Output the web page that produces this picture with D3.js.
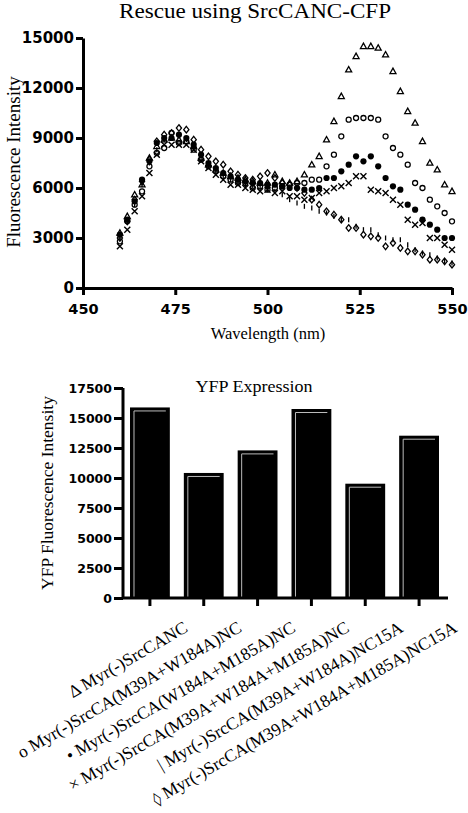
<!DOCTYPE html>
<html><head><meta charset="utf-8">
<script src="https://cdn.jsdelivr.net/npm/d3@7/dist/d3.min.js"></script>
<style>body{margin:0;background:#fff}svg{display:block}</style>
</head><body>
<svg id="c" width="468" height="813"></svg>
<script>
// ---------- Top chart data ----------
const wavelengths = [460,462,464,466,468,470,472,474,476,478,480,482,484,486,488,490,492,494,496,498,500,502,504,506,508,510,512,514,516,518,520,522,524,526,528,530,532,534,536,538,540,542,544,546,548,550];
const triangleSeries = [3300,4300,5600,6200,7800,8500,8900,9000,8900,8800,8500,7800,7400,7100,6900,6700,6600,6500,6400,6300,6300,6800,6400,6300,6400,6800,7400,7900,8900,10000,11500,13100,13900,14500,14500,14400,14000,13000,11800,10600,9900,8800,7500,7100,6200,5800];
const openCircleSeries = [2800,4000,5000,5800,7300,8100,8400,9300,8700,8800,8300,7700,7300,7000,6700,6500,6300,6300,6000,6100,5900,6000,6100,6200,6300,6300,6500,6500,7300,8000,9100,10100,10200,10200,10200,10100,9100,8400,8000,7400,6300,6000,5300,4900,4500,4000];
const filledCircleSeries = [3200,4100,5200,6500,7600,8700,9000,9000,9200,9000,8600,8000,7500,7200,6900,6700,6500,6400,6300,6300,6200,6200,6100,6000,6000,5900,5900,6000,6600,6600,7000,7400,7900,7600,7900,7300,6600,6100,5900,5000,4700,4100,3800,3500,3000,3000];
const crossSeries = [2500,3500,4600,5500,6900,8000,8600,8600,8600,8600,8300,7600,7200,6800,6500,6200,6200,6000,5900,5800,5900,5700,5800,5500,5500,5300,5400,5700,5800,6000,6100,6300,6700,6700,5900,5800,5700,5300,5000,4100,3800,3900,3000,3000,2600,2300];
const barSeries = [3000,4000,5000,6200,7500,8300,8900,9000,9100,8900,8400,7800,7300,7000,6700,6500,6300,6200,6100,6000,5900,5800,5600,5300,5100,4900,4800,4600,4500,4300,4100,4100,3700,3500,3500,3200,3000,2900,2900,2600,2300,2100,2000,1800,1600,1500];
const diamondSeries = [3000,4000,5300,6400,7700,8800,9200,9300,9600,9500,8900,8300,7900,7600,7400,7000,6800,6600,6500,6700,6900,6600,6300,6200,6000,5700,5300,5000,4600,4400,4100,3600,3600,3200,3100,3000,2500,2700,2400,2200,2200,2000,1700,1700,1600,1400];
const topXTicks = [450,475,500,525,550];
const topYTicks = [0,3000,6000,9000,12000,15000];

// ---------- Bottom chart data ----------
const barSymbols = ["\u0394","o","\u2022","\u00d7","|","\u25ca"];
const barLabels = ["Myr(-)SrcCANC","Myr(-)SrcCA(M39A+W184A)NC","Myr(-)SrcCA(W184A+M185A)NC","Myr(-)SrcCA(M39A+W184A+M185A)NC","Myr(-)SrcCA(M39A+W184A)NC15A","Myr(-)SrcCA(M39A+W184A+M185A)NC15A"];
const yfpValues = [15880,10420,12300,15750,9525,13525];
const bottomYTicks = [0,2500,5000,7500,10000,12500,15000,17500];

const svg = d3.select("#c");
const serif = "'Liberation Serif','Times New Roman',serif";
const tickFont = "'DejaVu Sans',sans-serif";

// ================= TOP CHART =================
const x1 = d3.scaleLinear().domain([450,550]).range([83,452]);
const y1 = d3.scaleLinear().domain([0,15000]).range([288,38]);
const topG = svg.append("g");

topG.append("text").attr("x",255).attr("y",18).attr("text-anchor","middle")
  .attr("font-family",serif).attr("font-size",21)
  .attr("textLength",272).attr("lengthAdjust","spacingAndGlyphs")
  .text("Rescue using SrcCANC-CFP");

const yAx1 = topG.append("g").attr("transform","translate(83,0)")
  .call(d3.axisLeft(y1).tickValues(topYTicks).tickSize(7).tickSizeOuter(0).tickFormat(d3.format("d")));
const xAx1 = topG.append("g").attr("transform","translate(0,288)")
  .call(d3.axisBottom(x1).tickValues(topXTicks).tickSize(7).tickSizeOuter(0).tickFormat(d3.format("d")));
[yAx1,xAx1].forEach(a=>{
  a.select(".domain").attr("stroke","#000").attr("stroke-width",3);
  a.selectAll(".tick line").attr("stroke","#000").attr("stroke-width",3);
  a.selectAll("text").attr("font-family",tickFont).attr("font-weight","bold").attr("fill","#000");
});
yAx1.selectAll("text").attr("font-size",15).attr("x",-9);
xAx1.selectAll("text").attr("font-size",14.5).attr("y",16);

topG.append("text").attr("transform","translate(20,162) rotate(-90)").attr("text-anchor","middle")
  .attr("font-family",serif).attr("font-size",19).text("Fluorescence Intensity");
topG.append("text").attr("x",268).attr("y",339).attr("text-anchor","middle")
  .attr("font-family",serif).attr("font-size",16.5).text("Wavelength (nm)");

const pts = topG.append("g");
function plot(series, drawFn){
  series.forEach((v,i)=>{
    const g = pts.append("g").attr("transform",`translate(${x1(wavelengths[i])},${y1(v)})`);
    drawFn(g);
  });
}
const sw = 1.3;
plot(barSeries, g=>g.append("line").attr("x1",0).attr("x2",0).attr("y1",-2.5).attr("y2",2.5).attr("stroke","#000").attr("stroke-width",sw));
plot(diamondSeries, g=>g.append("path").attr("d","M0,-3.3L2.6,0L0,3.3L-2.6,0Z").attr("fill","none").attr("stroke","#000").attr("stroke-width",sw));
plot(crossSeries, g=>g.append("path").attr("d","M-3,-3L3,3M-3,3L3,-3").attr("stroke","#000").attr("stroke-width",1.4));
plot(filledCircleSeries, g=>g.append("circle").attr("r",3.1).attr("fill","#000"));
plot(openCircleSeries, g=>g.append("circle").attr("r",2.5).attr("fill","none").attr("stroke","#000").attr("stroke-width",sw));
plot(triangleSeries, g=>g.append("path").attr("d","M0,-3.2L3,2.2L-3,2.2Z").attr("fill","none").attr("stroke","#000").attr("stroke-width",sw));

// ================= BOTTOM CHART =================
const x2 = d3.scaleBand().domain(barLabels).range([123,446]).paddingInner(0.26).paddingOuter(0.13);
const y2 = d3.scaleLinear().domain([0,17500]).range([598,388]);
const bot = svg.append("g");

bot.append("text").attr("x",254).attr("y",392).attr("text-anchor","middle")
  .attr("font-family",serif).attr("font-size",17)
  .attr("textLength",117).attr("lengthAdjust","spacingAndGlyphs")
  .text("YFP Expression");

bot.append("text").attr("transform","translate(53,493) rotate(-90)").attr("text-anchor","middle")
  .attr("font-family",serif).attr("font-size",17.5).text("YFP Fluorescence Intensity");

const bars = bot.append("g");
yfpValues.forEach((v,i)=>{
  const bx = x2(barLabels[i]), bw = x2.bandwidth(), by = y2(v), bb = y2(0);
  bars.append("rect").attr("x",bx).attr("y",by).attr("width",bw).attr("height",bb-by).attr("fill","#000");
  bars.append("path").attr("d",`M${bx+4},${bb}L${bx+4},${by+3.5}L${bx+bw-4},${by+3.5}`)
    .attr("fill","none").attr("stroke","#bbb").attr("stroke-width",1);
});

const yAx2 = bot.append("g").attr("transform","translate(123,0)")
  .call(d3.axisLeft(y2).tickValues(bottomYTicks).tickSize(9).tickSizeOuter(0).tickFormat(d3.format("d")));
const xAx2 = bot.append("g").attr("transform","translate(0,598)")
  .call(d3.axisBottom(x2).tickSize(8).tickSizeOuter(0).tickFormat(""));
[yAx2,xAx2].forEach(a=>{
  a.select(".domain").attr("stroke","#000").attr("stroke-width",3);
  a.selectAll(".tick line").attr("stroke","#000").attr("stroke-width",3);
  a.selectAll("text").attr("font-family",tickFont).attr("font-weight","bold").attr("fill","#000");
});
yAx2.select(".domain").attr("d","M0,388V598");
xAx2.select(".domain").attr("d","M123,0H448");
yAx2.selectAll("text").attr("font-size",12.5).attr("x",-11);

const lbl = bot.append("g");
barLabels.forEach((l,i)=>{
  const cx = x2(l)+x2.bandwidth()/2;
  const t = lbl.append("text").attr("transform",`translate(${cx+39},631) rotate(-30)`)
    .attr("text-anchor","end").attr("font-family",serif).attr("font-size",17.5).attr("fill","#000");
  const s = t.append("tspan").attr("fill","#000").text(barSymbols[i]);
  if (i === 5) s.attr("font-family","'DejaVu Sans',sans-serif").attr("font-size",15);
  t.append("tspan").text(" " + l);
});
</script>
</body></html>
